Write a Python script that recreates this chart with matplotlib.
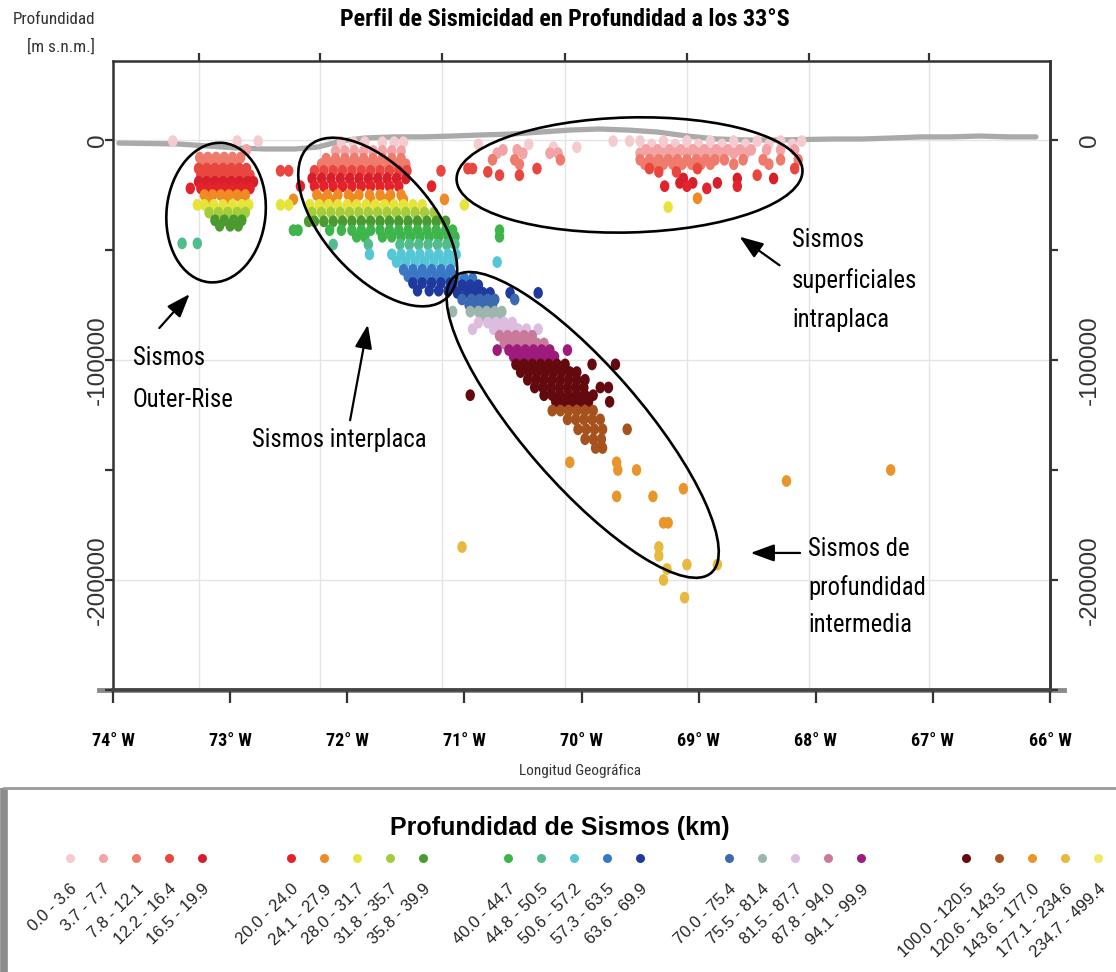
import numpy as np
import matplotlib
matplotlib.use('Agg')
import matplotlib.pyplot as plt
from matplotlib.patches import Ellipse
from matplotlib.path import Path
from matplotlib.transforms import ScaledTranslation, Affine2D

# ---- depth classes (km) of the legend ----
class_labels = ['0.0 - 3.6', '3.7 - 7.7', '7.8 - 12.1', '12.2 - 16.4', '16.5 - 19.9',
                '20.0 - 24.0', '24.1 - 27.9', '28.0 - 31.7', '31.8 - 35.7', '35.8 - 39.9',
                '40.0 - 44.7', '44.8 - 50.5', '50.6 - 57.2', '57.3 - 63.5', '63.6 - 69.9',
                '70.0 - 75.4', '75.5 - 81.4', '81.5 - 87.7', '87.8 - 94.0', '94.1 - 99.9',
                '100.0 - 120.5', '120.6 - 143.5', '143.6 - 177.0', '177.1 - 234.6', '234.7 - 499.4']
class_lower = [0.0, 3.7, 7.8, 12.2, 16.5, 20.0, 24.1, 28.0, 31.8, 35.8, 40.0, 44.8, 50.6,
               57.3, 63.6, 70.0, 75.5, 81.5, 87.8, 94.1, 100.0, 120.6, 143.6, 177.1, 234.7]
class_colors = ['#f4ccd0', '#f3a2a6', '#ee7b6c', '#e8463e', '#d71f2b',
                '#e3222b', '#ef8a25', '#e6e43a', '#a4cc3c', '#4a9a30',
                '#3db54a', '#52bd8c', '#55c6d6', '#3a78c6', '#1f3a9c',
                '#3c6ab0', '#9cb6ae', '#dcbde0', '#c97a9a', '#9e1a7c',
                '#640a0e', '#a5521e', '#e8962c', '#e9b83e', '#f1e866']

# ---- topography along the profile (lon, m) ----
topo_lon = [-73.95, -73.70, -73.45, -73.20, -72.95, -72.70, -72.45, -72.25, -72.05, -71.85,
            -71.60, -71.35, -71.10, -70.85, -70.60, -70.35, -70.10, -69.85, -69.60, -69.35,
            -69.10, -68.85, -68.60, -68.35, -68.10, -67.85, -67.60, -67.35, -67.10, -66.85,
            -66.60, -66.35, -66.12]
topo_elev = [-1400, -1600, -1800, -2700, -3600, -4100, -4100, -3200, -450, 900,
             1400, 1400, 1800, 2300, 2700, 3600, 4500, 5000, 4500, 3600,
             1800, 450, 0, 0, 200, 450, 450, 900, 1400, 1400,
             1800, 1400, 1400]

# ---- earthquakes: (depth km, [longitudes]) ----
outer_rows = [
    (0.5, [-73.49, -72.94, -72.76]),
    (4.5, [-72.86]),
    (8.0, [-73.26, -73.19, -73.12, -73.05, -72.98, -72.91]),
    (10.5, [-73.23, -73.15, -73.08, -73.01, -72.94]),
    (13.0, [-73.27, -73.20, -73.13, -73.06, -72.99, -72.92, -72.86]),
    (16.0, [-73.25, -73.18, -73.11, -73.04, -72.97, -72.90, -72.83]),
    (19.0, [-73.27, -73.20, -73.13, -73.06, -72.99, -72.92, -72.85, -72.80]),
    (22.0, [-73.34, -73.25, -73.18, -73.11, -73.04, -72.97, -72.90, -72.83]),
    (25.0, [-73.22, -73.15, -73.08, -73.01, -72.94, -72.87]),
    (27.0, [-73.18, -73.04, -72.90]),
    (29.5, [-73.28, -73.22, -73.14, -73.06, -72.98, -72.90, -72.84]),
    (33.0, [-73.18, -73.10, -73.02, -72.94, -72.87]),
    (36.5, [-73.13, -73.05, -72.97, -72.90]),
    (39.0, [-73.09, -73.00, -72.93]),
    (47.0, [-73.41, -73.28]),
]
inter_rows = [
    (1.0, [-72.05, -71.95, -71.85, -71.70, -71.60, -71.52]),
    (5.0, [-72.10, -72.02, -71.94, -71.86, -71.78, -71.70, -71.62, -71.54]),
    (8.5, [-72.18, -72.10, -72.02, -71.94, -71.86, -71.78, -71.70, -71.62, -71.54]),
    (11.0, [-72.22, -72.14, -72.06, -71.98, -71.90, -71.82, -71.74, -71.66, -71.58, -71.50]),
    (14.0, [-72.57, -72.50, -72.28, -72.20, -72.12, -72.04, -71.96, -71.88, -71.80, -71.72,
            -71.64, -71.56, -71.49, -71.20]),
    (17.5, [-72.30, -72.22, -72.14, -72.06, -71.98, -71.90, -71.82, -71.74, -71.66, -71.58, -71.50]),
    (21.0, [-72.40, -72.28, -72.20, -72.12, -72.04, -71.96, -71.88, -71.80, -71.72, -71.64,
            -71.56, -71.28]),
    (25.0, [-72.26, -72.17, -72.08, -71.99, -71.90, -71.81, -71.72, -71.63, -71.54]),
    (27.0, [-72.46, -72.22, -72.10, -71.95, -71.80, -71.66, -71.52, -71.17]),
    (29.5, [-72.57, -72.50, -72.32, -72.24, -72.16, -72.08, -72.00, -71.92, -71.84, -71.76,
            -71.68, -71.60, -71.52, -71.44, -71.36, -71.00]),
    (33.0, [-72.30, -72.22, -72.14, -72.06, -71.98, -71.90, -71.82, -71.74, -71.66, -71.58,
            -71.50, -71.42, -71.34, -71.26]),
    (37.0, [-72.33, -72.28, -72.20, -72.12, -72.04, -71.96, -71.88, -71.80, -71.72, -71.64,
            -71.56, -71.48, -71.40, -71.32, -71.24, -71.16]),
    (41.0, [-72.46, -72.42, -72.15, -72.05, -71.96, -71.88, -71.80, -71.72, -71.64, -71.56,
            -71.48, -71.40, -71.32, -71.24, -71.16, -71.10, -70.70]),
    (44.0, [-71.92, -71.85, -71.70, -71.62, -71.54, -71.46, -71.38, -71.30, -71.22, -71.14,
            -71.08, -70.70]),
    (47.5, [-72.12, -71.82, -71.55, -71.47, -71.39, -71.31, -71.23, -71.15, -71.08]),
    (52.0, [-71.81, -71.62, -71.54, -71.46, -71.38, -71.30, -71.22, -71.14, -71.07]),
    (55.5, [-71.58, -71.50, -71.42, -71.34, -71.26, -71.18, -71.10, -70.72]),
    (59.0, [-71.52, -71.44, -71.36, -71.28, -71.20, -71.12]),
    (62.0, [-71.48, -71.40, -71.32, -71.24, -71.16, -71.08]),
    (65.0, [-71.44, -71.36, -71.28, -71.20, -71.12]),
    (68.5, [-71.40, -71.30, -71.22, -71.14]),
]
deep_rows = [
    (63.0, [-71.08, -71.00, -70.93]),
    (66.0, [-71.10, -71.02, -70.95, -70.88]),
    (69.5, [-71.06, -70.98, -70.91, -70.84, -70.78, -70.61, -70.37]),
    (72.5, [-71.02, -70.94, -70.87, -70.80, -70.74, -70.57]),
    (75.0, [-70.96, -70.89, -70.82, -70.76]),
    (78.0, [-71.10, -70.95, -70.88, -70.81, -70.74, -70.68]),
    (80.5, [-70.85, -70.78, -70.71]),
    (83.0, [-70.88, -70.80, -70.73, -70.66, -70.59]),
    (86.0, [-70.93, -70.75, -70.68, -70.61, -70.54, -70.47, -70.37]),
    (89.0, [-70.70, -70.63, -70.56, -70.49, -70.42]),
    (92.5, [-70.66, -70.59, -70.52, -70.45, -70.38, -70.32]),
    (95.5, [-70.72, -70.62, -70.55, -70.48, -70.41, -70.34, -70.27, -70.12]),
    (98.5, [-70.58, -70.51, -70.44, -70.37, -70.30, -70.23]),
    (102.0, [-70.56, -70.49, -70.42, -70.35, -70.28, -70.21, -70.14, -69.91, -69.71]),
    (105.5, [-70.52, -70.45, -70.38, -70.31, -70.24, -70.17, -70.10, -70.04]),
    (109.0, [-70.46, -70.39, -70.32, -70.25, -70.18, -70.11, -70.04, -69.97]),
    (112.5, [-70.40, -70.33, -70.26, -70.19, -70.12, -70.05, -69.98, -69.84, -69.77]),
    (116.0, [-70.95, -70.32, -70.25, -70.18, -70.11, -70.04, -69.97, -69.90]),
    (119.0, [-70.22, -70.15, -70.08, -70.01, -69.94, -69.76]),
    (123.0, [-70.25, -70.18, -70.11, -70.04, -69.97, -69.90]),
    (127.0, [-70.12, -70.05, -69.98, -69.91, -69.84]),
    (131.5, [-70.03, -69.96, -69.89, -69.82, -69.61]),
    (136.0, [-69.97, -69.90, -69.83]),
    (140.0, [-69.88, -69.82]),
    (146.5, [-70.10, -69.70]),
    (150.0, [-69.69, -69.53, -67.36]),
    (155.0, [-68.25]),
    (158.5, [-69.13]),
    (162.0, [-69.70, -69.39]),
    (174.0, [-69.30, -69.26]),
    (185.0, [-71.02, -69.34]),
    (189.0, [-69.34]),
    (193.0, [-69.10, -68.84]),
    (195.0, [-69.27]),
    (200.0, [-69.30]),
    (208.0, [-69.12]),
]
shallow_rows = [
    (0.5, [-69.73, -69.59, -69.50, -69.30, -69.10, -68.90, -68.70, -68.50, -68.30, -68.12]),
    (2.0, [-70.88, -70.45, -69.40, -69.20, -69.00, -68.80, -68.60, -68.40, -68.20]),
    (3.3, [-70.04, -70.24]),
    (4.5, [-70.67, -70.55, -69.45, -69.35, -69.25, -69.15, -69.05, -68.95, -68.85, -68.75,
           -68.65, -68.55, -68.42, -68.30, -68.18]),
    (6.0, [-70.72, -70.50, -70.27, -70.20, -69.50, -69.40, -69.30, -69.20, -69.10, -69.00,
           -68.90, -68.80, -68.70, -68.60]),
    (9.0, [-70.76, -70.57, -70.18, -69.50, -69.42, -69.34, -69.26, -69.18, -69.10, -69.02,
           -68.94, -68.86, -68.78, -68.62, -68.45, -68.30, -68.15]),
    (11.0, [-70.53, -69.46, -69.38, -69.30, -69.22, -69.14, -69.06, -68.98, -68.90, -68.70, -68.40]),
    (13.0, [-70.97, -70.93, -70.38, -69.42, -69.01, -68.18]),
    (14.5, [-70.80, -69.34, -69.19]),
    (16.0, [-70.70, -70.53, -68.50]),
    (17.5, [-69.13, -68.67, -68.36]),
    (19.5, [-69.16, -69.05, -68.84]),
    (21.0, [-69.29, -69.10, -68.67]),
    (22.0, [-68.93]),
    (26.5, [-69.01]),
    (30.5, [-69.26]),
]

lon_ticks = [-74, -73, -72, -71, -70, -69, -68, -67, -66]
lon_ticklabels = ['74° W', '73° W', '72° W', '71° W', '70° W', '69° W', '68° W', '67° W', '66° W']
grid_lon = [-73.27, -72.23, -71.19, -70.14, -69.10, -68.06, -67.03]
depth_ticks = [0, -50000, -100000, -150000, -200000, -250000]
depth_ticklabels = ['0', '', '-100000', '', '-200000', '']

NARROW = ['Roboto Condensed', 'Liberation Sans Narrow', 'DejaVu Sans']
ARIAL = ['Liberation Sans', 'DejaVu Sans']
NKW = dict(family=NARROW, fontstretch='condensed')

W, H = 1116, 972
fig = plt.figure(figsize=(W / 100, H / 100), dpi=100)
ax = fig.add_axes([113 / W, 1 - 690 / H, (1050 - 113) / W, (690 - 61) / H])
ax.set_xlim(-74, -66)
ax.set_ylim(-250000, 35900)

# grid
for g in grid_lon:
    ax.axvline(g, color='#e4e4e4', lw=1, zorder=0)
for g in [0, -100000, -200000]:
    ax.axhline(g, color='#e4e4e4', lw=1, zorder=0)

# topography
ax.plot(topo_lon, topo_elev, color='#aaaaaa', lw=3.8, zorder=1, solid_capstyle='round')

# earthquakes (slightly tall dots)
dot = Path.unit_circle().transformed(Affine2D().scale(0.88, 1.1))
for rows in [outer_rows, inter_rows, deep_rows, shallow_rows]:
    lon = np.array([x for d, xs in rows for x in xs])
    dep = np.array([d for d, xs in rows for x in xs])
    idx = np.digitize(dep, class_lower[1:])
    cols = np.array(class_colors)[idx]
    ax.scatter(lon, -dep * 1000, c=cols, s=72, marker=dot, linewidths=0, zorder=2)

# ellipses, sized in pixels around a data centre
ellipses = [(-73.12, -33000, 99, 140, -6),
            (-71.74, -37300, 205, 108, -48),
            (-69.59, -15900, 346, 115, 1.5),
            (-69.99, -129500, 392, 118, -49)]
for cx, cy, ew, eh, ang in ellipses:
    e = Ellipse((0, 0), ew, eh, angle=ang, fill=False, lw=1.9, ec='black',
                transform=ScaledTranslation(cx, cy, ax.transData), zorder=3)
    ax.add_patch(e)

arrows = [((-73.62, -86400), (-73.33, -69100)),
          ((-71.98, -128600), (-71.82, -82700)),
          ((-68.29, -57700), (-68.67, -43200)),
          ((-68.11, -187700), (-68.58, -187700))]
for tail, head in arrows:
    ax.annotate('', xy=head, xytext=tail,
                arrowprops=dict(arrowstyle='-|>,head_length=0.6,head_width=0.22', color='black',
                                lw=1.6, mutation_scale=24),
                zorder=4)

def ftext(x, y, s, **kw):
    fig.text(x / W, 1 - y / H, s, **kw)

ftext(133, 379, 'Sismos\nOuter-Rise', fontsize=17.7, va='center', ha='left', linespacing=1.95, **NKW)
ftext(252, 440, 'Sismos interplaca', fontsize=17.7, va='center', ha='left', **NKW)
ftext(792, 280, 'Sismos\nsuperficiales\nintraplaca', fontsize=17.7, va='center',
      ha='left', linespacing=1.8, **NKW)
ftext(808, 587, 'Sismos de\nprofundidad\nintermedia', fontsize=17.7, va='center',
      ha='left', linespacing=1.68, **NKW)

ftext(565, 20, 'Perfil de Sismicidad en Profundidad a los 33°S', fontsize=17.3,
      fontweight='bold', ha='center', va='center', **NKW)
ftext(95, 20, 'Profundidad', fontsize=12.3, ha='right', va='center', color='#333333', **NKW)
ftext(95, 47, '[m s.n.m.]', fontsize=12.3, ha='right', va='center', color='#333333', **NKW)
ftext(580, 771, 'Longitud Geográfica', fontsize=11, ha='center', va='center',
      color='#333333', **NKW)

# axes styling
for side in ['left', 'right', 'top']:
    ax.spines[side].set_color('#333333')
    ax.spines[side].set_linewidth(1.8)
ax.spines['bottom'].set_color('#444444')
ax.spines['bottom'].set_linewidth(2.6)
ax.plot([-74.12, -65.88], [-250000, -250000], color='#8a8a8a', lw=3.5, clip_on=False, zorder=0)

ax.set_xticks(lon_ticks)
ax.set_xticklabels(lon_ticklabels, fontsize=13, fontweight='bold', **NKW)
ax.tick_params(axis='x', direction='out', length=9, width=1.6, color='#333333', pad=21)
ax.set_yticks(depth_ticks)
ax.set_yticklabels(depth_ticklabels, family=ARIAL, fontsize=17.5, color='#333333')
ax.tick_params(axis='y', direction='out', length=6, width=1.6, color='#333333',
               left=True, right=False, labelleft=True, labelright=False, labelrotation=90, pad=-3)
for lab in ax.get_yticklabels():
    lab.set_va('center')

right = ax.secondary_yaxis('right')
right.set_yticks(depth_ticks)
right.set_yticklabels(depth_ticklabels, family=ARIAL, fontsize=17.5, color='#333333')
right.tick_params(direction='out', length=6, width=1.6, color='#333333', labelrotation=90, pad=15)
right.spines['right'].set_color('#333333')
right.spines['right'].set_linewidth(1.8)
for lab in right.get_yticklabels():
    lab.set_va('center')

top = ax.secondary_xaxis('top')
top.set_xticks(grid_lon)
top.set_xticklabels([])
top.tick_params(direction='out', length=6, width=1.6, color='#333333')
top.spines['top'].set_visible(False)

# ---- legend box ----
lax = fig.add_axes([0, 0, 1, 187 / H])
lax.set_xlim(0, W)
lax.set_ylim(H, 785)
lax.axis('off')
lax.plot([4, 4], [788, H], color='#8c8c8c', lw=5.5, solid_capstyle='butt')
lax.plot([4, W], [788, 788], color='#9a9a9a', lw=2)
lax.text(560, 828, 'Profundidad de Sismos (km)', family=ARIAL, fontsize=18, fontweight='bold',
         ha='center', va='center')
group_x = [70, 291, 508, 729, 966]
for i, (lab, col) in enumerate(zip(class_labels, class_colors)):
    x = group_x[i // 5] + 33 * (i % 5)
    lax.scatter([x], [858], s=42, color=col, linewidths=0)
    lax.text(x + 5, 887, lab, family=ARIAL, fontsize=12, rotation=44, rotation_mode='anchor',
             ha='right', va='center', color='#222222')

fig.savefig('out.png', dpi=100)
